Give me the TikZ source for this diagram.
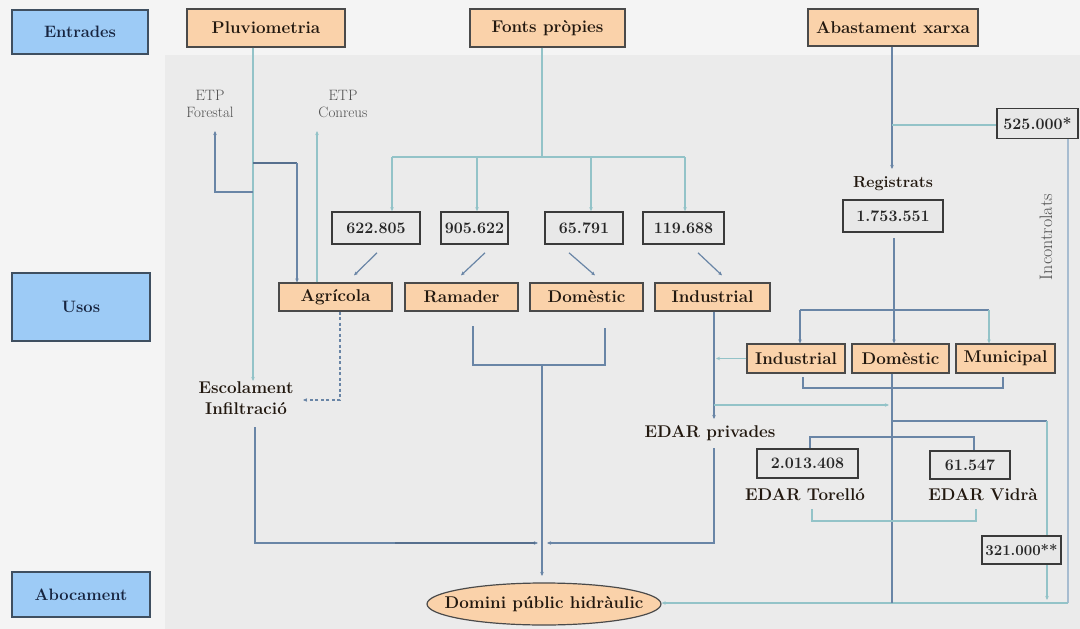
\documentclass[tikz,border=0pt]{standalone}
\usetikzlibrary{arrows.meta,shapes.geometric}
\definecolor{bglight}{HTML}{F4F4F4}
\definecolor{bgpanel}{HTML}{EBEBEB}
\definecolor{bluefill}{HTML}{9DCBF6}
\definecolor{bluebd}{HTML}{3F4F60}
\definecolor{navy}{HTML}{17243F}
\definecolor{orfill}{HTML}{FAD2AA}
\definecolor{orbd}{HTML}{4A4A4A}
\definecolor{ortext}{HTML}{22180F}
\definecolor{numfill}{HTML}{E8E8E8}
\definecolor{numbd}{HTML}{3A3A3A}
\definecolor{tealc}{HTML}{93C3C8}
\definecolor{slatec}{HTML}{6985A6}
\definecolor{darkslate}{HTML}{566F8E}
\definecolor{lightslate}{HTML}{A7BCD0}
\definecolor{greytext}{HTML}{505050}
\begin{document}
\begin{tikzpicture}[x=1pt,y=-1pt,
  bluebox/.style={draw=bluebd,fill=bluefill,line width=1.4pt,inner sep=0pt,
    font=\fontsize{16.5}{18}\selectfont\bfseries,text=navy},
  orbox/.style={draw=orbd,fill=orfill,line width=1.2pt,inner sep=0pt,
    minimum height=28,font=\fontsize{17}{19}\selectfont\bfseries,text=ortext},
  numbox/.style={draw=numbd,fill=numfill,line width=1.6pt,inner sep=0pt,
    font=\fontsize{16}{18}\selectfont\bfseries,text=black!85},
  plainb/.style={inner sep=0pt,align=center,text=ortext,
    font=\fontsize{17}{21}\selectfont\bfseries},
  smallg/.style={inner sep=0pt,align=center,text=greytext,
    font=\fontsize{15}{17}\selectfont},
  teal/.style={draw=tealc,line width=1.2pt},
  slate/.style={draw=slatec,line width=1.2pt},
  tip/.style={-{Stealth[length=4pt,width=3.5pt]}}
]
\useasboundingbox (0,0) rectangle (1080,629);
\fill[bglight] (0,0) rectangle (1080,629);
\fill[bgpanel] (165,55) rectangle (1080,629);

% left column
\node[bluebox,minimum width=136,minimum height=44] (entr) at (80,32) {Entrades};
\node[bluebox,minimum width=138,minimum height=68] (usos) at (81,307) {Usos};
\node[bluebox,minimum width=138,minimum height=45] (aboc) at (81,594.5) {Abocament};

% inputs
\node[orbox,minimum width=158,minimum height=38] (pluv) at (266,28) {Pluviometria};
\node[orbox,minimum width=155,minimum height=38] (fonts) at (547.5,28) {Fonts pròpies};
\node[orbox,minimum width=170,minimum height=37] (abast) at (893,27.5) {Abastament xarxa};

% ETP labels
\node[smallg] (etpf) at (210,104) {ETP\\Forestal};
\node[smallg] (etpc) at (343,104) {ETP\\Conreus};

% numbers own sources
\node[numbox,minimum width=88,minimum height=32] (n1) at (376,228) {622.805};
\node[numbox,minimum width=67,minimum height=32] (n2) at (474.5,228) {905.622};
\node[numbox,minimum width=78,minimum height=32] (n3) at (584,228) {65.791};
\node[numbox,minimum width=81,minimum height=32] (n4) at (683.5,228) {119.688};

% uses
\node[orbox,minimum width=113] (agr) at (335.5,297) {Agrícola};
\node[orbox,minimum width=113] (ram) at (461.5,297) {Ramader};
\node[orbox,minimum width=113] (dom1) at (586.5,297) {Domèstic};
\node[orbox,minimum width=115] (ind1) at (712.5,297) {Industrial};

\node[plainb] (esc) at (246,398) {Escolament\\Infiltració};

% network side
\node[numbox,minimum width=81,minimum height=30] (n525) at (1037.5,123.5) {525.000*};
\node[plainb,font=\fontsize{16}{18}\selectfont\bfseries] (reg) at (893,184) {Registrats};
\node[numbox,minimum width=100,minimum height=32] (n1753) at (893,216) {1.753.551};
\node[inner sep=0pt,rotate=90,text=greytext,font=\fontsize{18}{20}\selectfont] (inc) at (1046,237) {Incontrolats};

\node[orbox,minimum width=98,minimum height=29] (ind2) at (796,358.5) {Industrial};
\node[orbox,minimum width=97,minimum height=29] (dom2) at (900.5,358.5) {Domèstic};
\node[orbox,minimum width=99,minimum height=29] (mun) at (1005.5,358.5) {Municipal};

\node[plainb] (edarp) at (710,433) {EDAR privades};
\node[numbox,minimum width=101,minimum height=29] (e1) at (807.5,463.5) {2.013.408};
\node[numbox,minimum width=80,minimum height=28] (e2) at (970,465) {61.547};
\node[plainb] (edart) at (805,495) {EDAR Torelló};
\node[plainb] (edarv) at (983,495) {EDAR Vidrà};

\node[ellipse,draw=orbd,fill=orfill,line width=1.2pt,inner sep=0pt,
  minimum width=234,minimum height=42,text=ortext,
  font=\fontsize{17}{19}\selectfont\bfseries] (dph) at (544,604) {\makebox[0pt]{Domini públic hidràulic}};

% ---------- connectors ----------
\coordinate (pv1) at (253,163);
\coordinate (pv2) at (253,192);
\coordinate (pvend) at (253,381);
\draw[teal,tip] (pluv.south -| pv1) -- (pvend);
\draw[draw=darkslate,line width=2.4pt] (pv1) -- (297,163);
\draw[slate,tip] (297,163) -- (agr.north -| 297,0);
\draw[slate,tip] (pv2) -- (215,192) -- (215,131);
\draw[teal,tip] (agr.north -| 317,0) -- (317,131);

\coordinate (fb) at (542,157);
\draw[teal] (fonts.south -| fb) -- (fb);
\draw[teal] (392,157) -- (685,157);
\draw[teal,tip] (392,157) -- (n1.north -| 392,0);
\draw[teal,tip] (477,157) -- (n2.north -| 477,0);
\draw[teal,tip] (591,157) -- (n3.north -| 591,0);
\draw[teal,tip] (685,157) -- (n4.north -| 685,0);

\draw[slate,tip] ([xshift=1pt,yshift=-8pt]n1.south) -- ([xshift=18.5pt,yshift=7pt]agr.north);
\draw[slate,tip] ([xshift=10.5pt,yshift=-8pt]n2.south) -- ([xshift=-0.5pt,yshift=7pt]ram.north);
\draw[slate,tip] ([xshift=-15pt,yshift=-8pt]n3.south) -- ([xshift=8.5pt,yshift=7pt]dom1.north);
\draw[slate,tip] ([xshift=14.5pt,yshift=-8pt]n4.south) -- ([xshift=9.5pt,yshift=7pt]ind1.north);

\draw[slate] (473,326) -- (473,365) -- (605,365) -- (605,328);
\draw[slate,tip] (542,365) -- (542,576);

\draw[slate,dashed,dash pattern=on 3pt off 2.5pt,tip] (agr.south -| 340,0) -- (340,400) -- (303,400);

\draw[slate,tip] (255,427) -- (255,543) -- (538,543);
\draw[draw=darkslate,line width=2pt] (395,543) -- (535,543);
\draw[slate,tip] (ind1.south -| 714,0) -- (714,419);
\draw[slate,tip] (714,448) -- (714,543) -- (547,543);
\draw[teal,tip] (ind2.west) -- (ind2.west -| 716,0);
\draw[teal,tip] (714,405) -- (889,405);

\draw[slate,tip] (abast.south -| 892,0) -- (892,169);
\draw[teal] (892,125) -- (n525.west |- 892,125);
\draw[draw=lightslate,line width=1.2pt] (n525.south -| 1068,0) -- (1068,603);
\draw[teal,tip] (1068,603) -- (dph.east |- 1068,603);

\draw[slate,tip] (894,238) -- (dom2.north -| 894,0);
\draw[slate] (800,310) -- (989,310);
\draw[slate,tip] (800,310) -- (ind2.north -| 800,0);
\draw[teal,tip] (989,310) -- (mun.north -| 989,0);
\draw[slate] (803,377) -- (803,388) -- (1003,388) -- (1003,377);
\draw[slate] (dom2.south -| 892,0) -- (892,603);
\draw[slate] (892,421) -- (1047,421);
\draw[teal,tip] (1047,421) -- (1047,600);

\draw[slate] (e1.north -| 810,0) -- (810,437) -- (974,437) -- (e2.north -| 974,0);
\draw[teal] (812,509) -- (812,521) -- (976,521) -- (976,509);

\node[numbox,minimum width=79,minimum height=28,font=\fontsize{15}{17}\selectfont\bfseries] (n321) at (1021.5,550) {321.000**};
\end{tikzpicture}
\end{document}
